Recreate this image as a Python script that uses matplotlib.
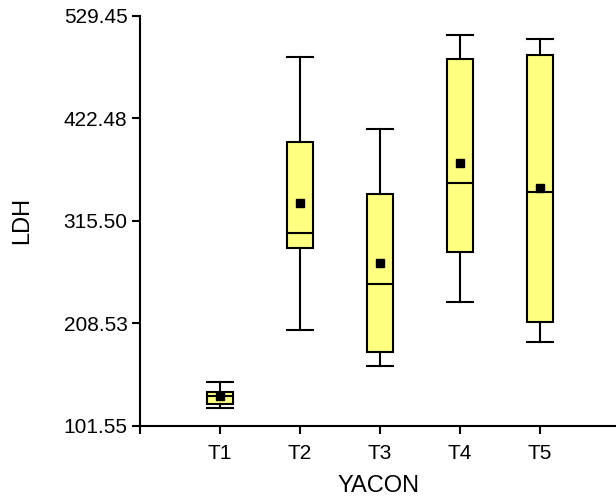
import matplotlib
matplotlib.use("Agg")
import matplotlib.pyplot as plt

# --- data ---
groups = ["T1", "T2", "T3", "T4", "T5"]
whisker_low = [119.7, 201.2, 163.6, 230.8, 188.7]
q1 = [124.2, 287.2, 178.2, 283.3, 209.6]
medians = [132.9, 302.5, 249.6, 354.7, 345.9]
q3 = [136.4, 398.2, 343.9, 484.2, 488.7]
whisker_high = [146.9, 486.3, 411.4, 509.6, 505.4]
means = [133.0, 334.5, 271.5, 376.2, 349.5]
yticks = [101.55, 208.53, 315.50, 422.48, 529.45]

plt.rcParams["font.family"] = ["Liberation Sans", "DejaVu Sans"]

fig = plt.figure(figsize=(6.16, 5.0), dpi=100)
ax = fig.add_axes([140 / 616, 1 - 425.7 / 500, 476 / 616, 409.7 / 500])

stats = []
for i, g in enumerate(groups):
    stats.append({
        "label": g,
        "whislo": whisker_low[i],
        "q1": q1[i],
        "med": medians[i],
        "q3": q3[i],
        "whishi": whisker_high[i],
        "mean": means[i],
        "fliers": [],
    })

lw = 1.5
ax.bxp(stats, positions=range(1, len(groups) + 1), widths=0.33, capwidths=0.33,
       patch_artist=True, showmeans=True, showfliers=False,
       boxprops=dict(facecolor="#ffff80", edgecolor="black", linewidth=lw),
       whiskerprops=dict(color="black", linewidth=lw),
       capprops=dict(color="black", linewidth=lw),
       medianprops=dict(color="black", linewidth=lw),
       meanprops=dict(marker="s", markerfacecolor="black", markeredgecolor="black",
                      markersize=5.5))

ax.set_xlim(0, 5.95)
ax.set_ylim(yticks[0], yticks[-1])
ax.set_xticks(range(0, len(groups) + 1))
ax.set_xticklabels([""] + groups)
ax.set_yticks(yticks)
ax.set_yticklabels([f"{v:.2f}" for v in yticks])

for s in ["top", "right"]:
    ax.spines[s].set_visible(False)
for s in ["left", "bottom"]:
    ax.spines[s].set_linewidth(1.5)

ax.tick_params(axis="both", length=6, width=1.5, labelsize=15, colors="black")
ax.tick_params(axis="x", pad=7)
ax.tick_params(axis="y", pad=3)

ax.set_xlabel("YACON", fontsize=17, labelpad=9)
ax.set_ylabel("LDH", fontsize=17, labelpad=22)

fig.savefig("out.png", dpi=100)
